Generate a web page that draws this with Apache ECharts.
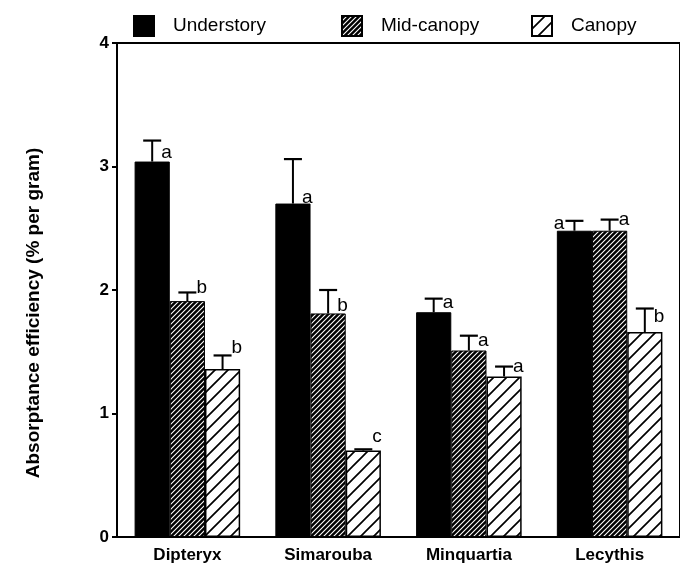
<!DOCTYPE html>
<html>
<head>
<meta charset="utf-8">
<script src="https://cdn.jsdelivr.net/npm/echarts@6/dist/echarts.min.js"></script>
<style>html,body{margin:0;padding:0;background:#fff;}#c{width:680px;height:569px;}</style>
</head>
<body>
<div id="c"></div>
<script>
const categories = ['Dipteryx', 'Simarouba', 'Minquartia', 'Lecythis'];
const seriesNames = ['Understory', 'Mid-canopy', 'Canopy'];
const yTicks = [0, 1, 2, 3, 4];

const understory = [3.04, 2.70, 1.82, 2.48];
const understoryErr = [3.21, 3.06, 1.93, 2.56];
const midCanopy = [1.91, 1.81, 1.51, 2.48];
const midCanopyErr = [1.98, 2.00, 1.63, 2.57];
const canopy = [1.36, 0.70, 1.30, 1.66];
const canopyErr = [1.47, 0.71, 1.38, 1.85];

const understoryLetters = ['a', 'a', 'a', 'a'];
const midCanopyLetters = ['b', 'b', 'a', 'a'];
const canopyLetters = ['b', 'c', 'a', 'b'];
const understoryLetterAt = [3.11, 2.75, 1.90, 2.54];
const midCanopyLetterAt = [2.02, 1.87, 1.59, 2.57];
const canopyLetterAt = [1.53, 0.81, 1.38, 1.78];
const understoryLetterSide = ['r', 'r', 'r', 'l'];
const midCanopyLetterSide = ['r', 'r', 'r', 'r'];
const canopyLetterSide = ['r', 'r', 'r', 'r'];

function hatch(bg, fg, size, lw) {
  const c = document.createElement('canvas');
  c.width = size; c.height = size;
  const g = c.getContext('2d');
  g.fillStyle = bg; g.fillRect(0, 0, size, size);
  g.strokeStyle = fg; g.lineWidth = lw;
  g.beginPath();
  g.moveTo(-size, 2 * size); g.lineTo(2 * size, -size);
  g.moveTo(-size, size); g.lineTo(size, -size);
  g.moveTo(0, 2 * size); g.lineTo(2 * size, 0);
  g.stroke();
  return c;
}

const midPattern = { image: hatch('#000', '#fff', 5, 1.1), repeat: 'repeat' };
const canopyPattern = { image: hatch('#fff', '#000', 13, 1.7), repeat: 'repeat' };

const styles = [
  { color: '#000', borderColor: '#000', borderWidth: 1 },
  { color: midPattern, borderColor: '#000', borderWidth: 1 },
  { color: canopyPattern, borderColor: '#000', borderWidth: 1.5 }
];

const values = [understory, midCanopy, canopy];
const errs = [understoryErr, midCanopyErr, canopyErr];
const letters = [understoryLetters, midCanopyLetters, canopyLetters];
const letterAt = [understoryLetterAt, midCanopyLetterAt, canopyLetterAt];
const letterSide = [understoryLetterSide, midCanopyLetterSide, canopyLetterSide];

const catGapRatio = 0.25;
const FONT = '"Liberation Sans", Arial, Helvetica, sans-serif';

function errSeries(si) {
  return {
    type: 'custom',
    z: 5,
    data: categories.map((c, i) => [i, values[si][i], errs[si][i], letterAt[si][i]]),
    renderItem: function (params, api) {
      const i = api.value(0);
      const catW = api.size([1, 0])[0];
      const barW = catW * (1 - catGapRatio) / 3;
      const center = api.coord([i, 0])[0] + (si - 1) * barW;
      const yTop = api.coord([i, api.value(1)])[1];
      const yErr = api.coord([i, api.value(2)])[1];
      const yLet = api.coord([i, api.value(3)])[1];
      const half = 9;
      const side = letterSide[si][params.dataIndex];
      return {
        type: 'group',
        children: [
          { type: 'line', shape: { x1: center, y1: yTop, x2: center, y2: yErr }, style: { stroke: '#000', lineWidth: 2 } },
          { type: 'line', shape: { x1: center - half, y1: yErr, x2: center + half, y2: yErr }, style: { stroke: '#000', lineWidth: 2.2 } },
          { type: 'text', x: side === 'r' ? center + 9 : center - 10, y: yLet,
            style: { text: letters[si][params.dataIndex], fill: '#000', font: '19px ' + FONT,
              align: side === 'r' ? 'left' : 'right', verticalAlign: 'middle' } }
        ]
      };
    }
  };
}

const legendLefts = [128, 336, 526];
const chart = echarts.init(document.getElementById('c'), null, { renderer: 'canvas' });
chart.setOption({
  animation: false,
  backgroundColor: '#fff',
  grid: { left: 117, right: -2, top: 43, bottom: 32, show: true, borderColor: '#000', borderWidth: 2, backgroundColor: 'transparent' },
  legend: seriesNames.map((n, k) => ({
    data: [n], left: legendLefts[k], top: 10, itemWidth: 20, itemHeight: 20, itemGap: 0, icon: 'rect',
    textStyle: { fontSize: 19, color: '#000', fontFamily: FONT, padding: [8, 0, 0, 14] },
    selectedMode: false
  })),
  xAxis: {
    type: 'category', data: categories,
    axisLine: { lineStyle: { color: '#000', width: 2 } },
    axisTick: { length: 5, lineStyle: { color: '#000', width: 2 } },
    axisLabel: { color: '#000', fontSize: 17, fontWeight: 'bold', fontFamily: FONT, margin: 10 }
  },
  yAxis: {
    type: 'value', min: 0, max: 4, interval: 1,
    name: 'Absorptance efficiency (% per gram)', nameLocation: 'middle', nameGap: 74,
    nameTextStyle: { color: '#000', fontSize: 19, fontWeight: 'bold', fontFamily: FONT, padding: [0, 46, 0, 0] },
    splitLine: { show: false },
    axisLine: { show: true, lineStyle: { color: '#000', width: 2 } },
    axisTick: { show: true, length: 5, lineStyle: { color: '#000', width: 2 } },
    axisLabel: { color: '#000', fontSize: 17, fontWeight: 'bold', fontFamily: FONT, margin: 8,
      formatter: v => yTicks.includes(v) ? String(v) : '' }
  },
  series: [
    ...seriesNames.map((n, si) => ({
      name: n, type: 'bar', data: values[si], barGap: '0%', barCategoryGap: (catGapRatio * 100) + '%',
      itemStyle: styles[si]
    })),
    errSeries(0), errSeries(1), errSeries(2)
  ]
});
</script>
</body>
</html>
